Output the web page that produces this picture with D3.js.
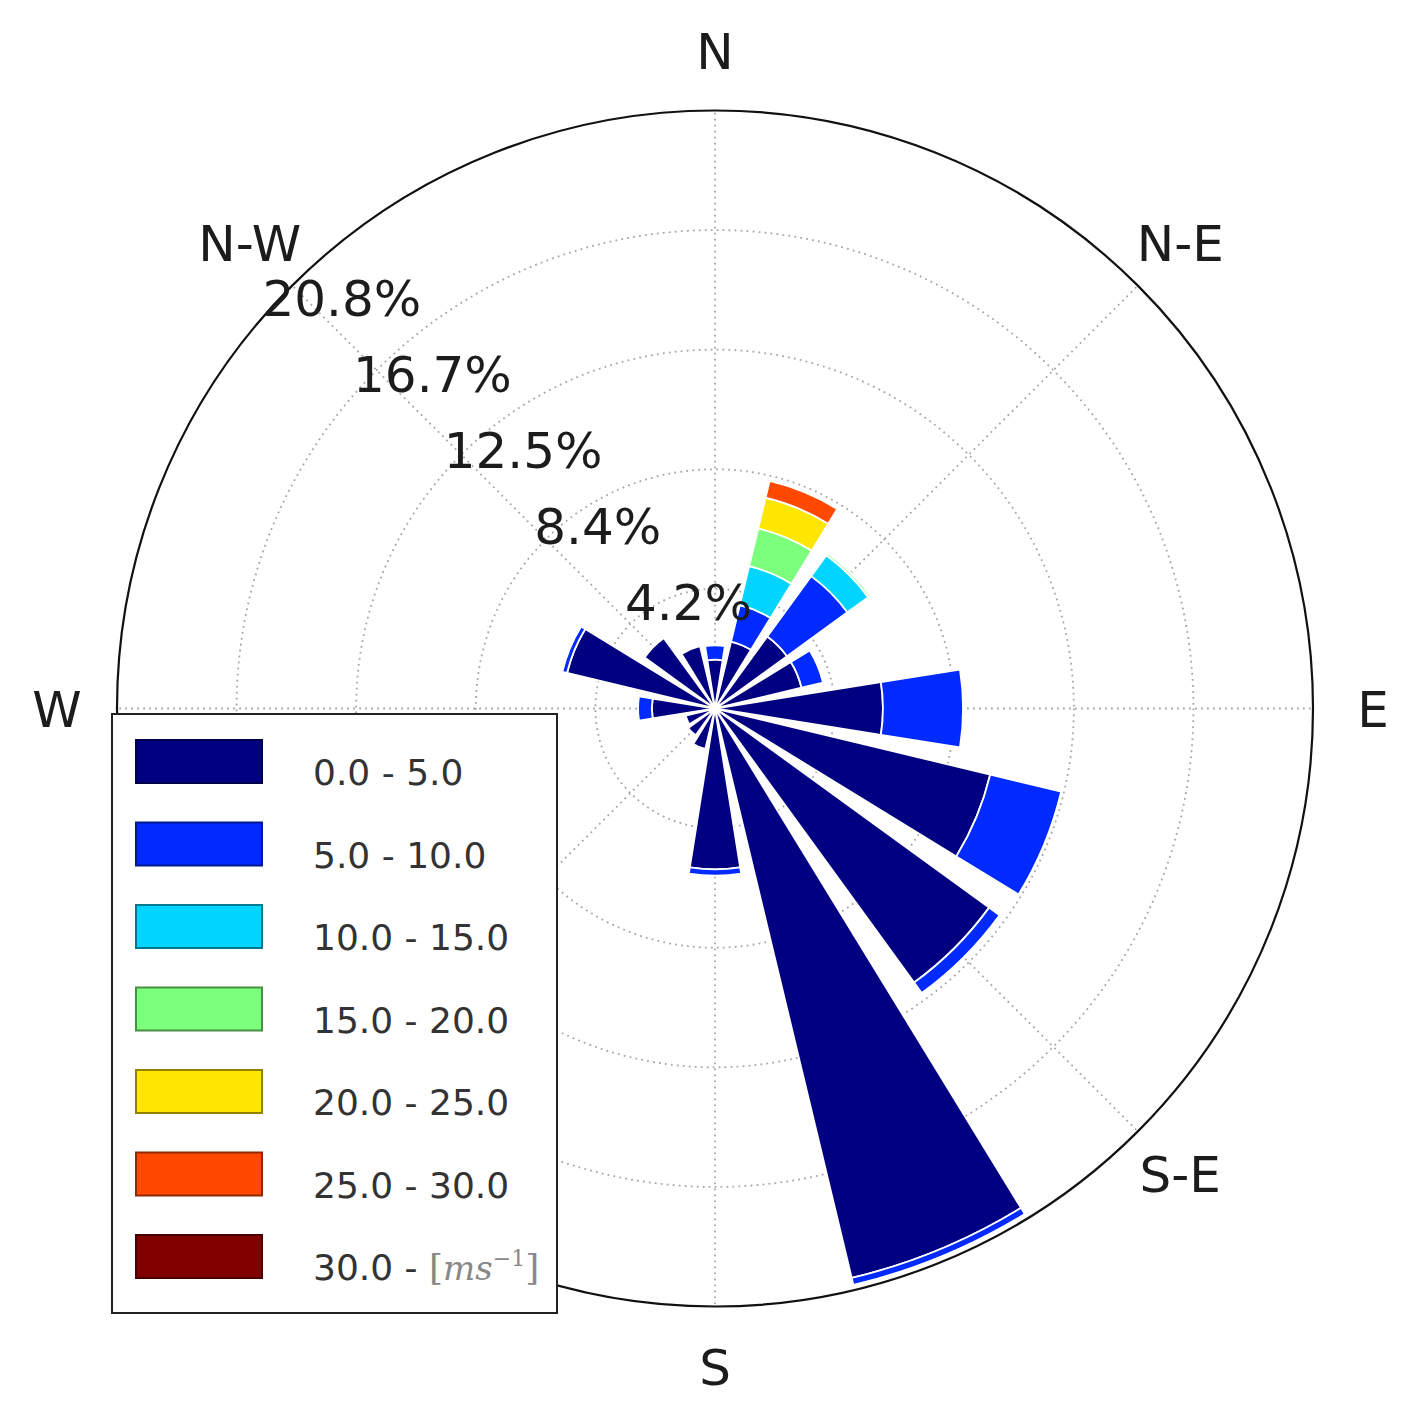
<!DOCTYPE html>
<html>
<head>
<meta charset="utf-8">
<script src="https://cdn.jsdelivr.net/npm/d3@7/dist/d3.min.js"></script>
<style>
  html, body { margin: 0; padding: 0; background: #fff; }
  svg { display: block; }
</style>
</head>
<body>
<svg id="chart" width="1415" height="1407"></svg>
<script>
// ---------------- DATA ----------------
const directions = ["N","NNE","NE","ENE","E","ESE","SE","SSE","S","SSW","SW","WSW","W","WNW","NW","NNW"];
const compassLabels = ["N","N-E","E","S-E","S","S-W","W","N-W"];
const binLabels = ["0.0 - 5.0","5.0 - 10.0","10.0 - 15.0","15.0 - 20.0","20.0 - 25.0","25.0 - 30.0","30.0 - "];
const binColors = ["#000080","#002aff","#00d4ff","#7cff7c","#ffe600","#ff4800","#800000"];
// frequency (%) per direction for each speed bin
const bin0_5   = [1.70, 2.40, 3.10, 3.10, 5.85, 9.86, 11.80, 20.40, 5.60, 1.45, 1.15, 1.05, 2.20, 5.30, 3.03, 2.23];
const bin5_10  = [0.50, 1.30, 2.60, 0.77, 2.79, 2.54, 0.45, 0.25, 0.22, 0.00, 0.00, 0.00, 0.48, 0.17, 0.00, 0.00];
const bin10_15 = [0.00, 1.40, 0.90, 0.00, 0.00, 0.00, 0.00, 0.00, 0.00, 0.00, 0.00, 0.00, 0.00, 0.00, 0.00, 0.00];
const bin15_20 = [0.00, 1.35, 0.08, 0.00, 0.00, 0.00, 0.00, 0.00, 0.00, 0.00, 0.00, 0.00, 0.00, 0.00, 0.00, 0.00];
const bin20_25 = [0.00, 1.10, 0.00, 0.00, 0.00, 0.00, 0.00, 0.00, 0.00, 0.00, 0.00, 0.00, 0.00, 0.00, 0.00, 0.00];
const bin25_30 = [0.00, 0.60, 0.00, 0.00, 0.00, 0.00, 0.00, 0.00, 0.00, 0.00, 0.00, 0.00, 0.00, 0.00, 0.00, 0.00];
const bin30_up = [0.00, 0.00, 0.00, 0.00, 0.00, 0.00, 0.00, 0.00, 0.00, 0.00, 0.00, 0.00, 0.00, 0.00, 0.00, 0.00];
const rMax = 20.83;
const radialTicks = [4.166, 8.333, 12.5, 16.666, 20.83];
const radialTickLabels = ["4.2%","8.4%","12.5%","16.7%","20.8%"];

const bins = [bin0_5, bin5_10, bin10_15, bin15_20, bin20_25, bin25_30, bin30_up];

// ---------------- LAYOUT ----------------
const cx = 715, cy = 708.5, R = 598;
const svg = d3.select("#chart");
const font = "'DejaVu Sans', Verdana, sans-serif";

const rScale = d3.scaleLinear().domain([0, rMax]).range([0, R]);
const angle = d3.scaleBand().domain(directions).range([0, 2 * Math.PI]);
const step = 2 * Math.PI / directions.length;
const halfWidth = step * 0.8 / 2;

const g = svg.append("g").attr("transform", `translate(${cx},${cy})`);

// grid circles (dotted)
g.selectAll("circle.grid").data(radialTicks.slice(0, 4)).join("circle")
  .attr("class", "grid")
  .attr("r", d => rScale(d))
  .attr("fill", "none")
  .attr("stroke", "#a6a6a6")
  .attr("stroke-width", 1.8)
  .attr("stroke-dasharray", "1.8,4.2");

// radial grid lines every 45 deg
const spokes = d3.range(8).map(i => i * Math.PI / 4);
g.selectAll("line.spoke").data(spokes).join("line")
  .attr("class", "spoke")
  .attr("x1", 0).attr("y1", 0)
  .attr("x2", a => R * Math.sin(a))
  .attr("y2", a => -R * Math.cos(a))
  .attr("stroke", "#a6a6a6")
  .attr("stroke-width", 1.8)
  .attr("stroke-dasharray", "1.8,4.2");

// stacked bars
const arc = d3.arc();
const segments = [];
directions.forEach((dir, i) => {
  let offset = 0;
  bins.forEach((b, j) => {
    const v = b[i];
    if (v > 0) {
      segments.push({ dir, j, r0: offset, r1: offset + v });
      offset += v;
    }
  });
});
g.selectAll("path.bar").data(segments).join("path")
  .attr("class", "bar")
  .attr("d", d => {
    const c = angle(d.dir);
    return arc({
      innerRadius: rScale(d.r0),
      outerRadius: rScale(d.r1),
      startAngle: c - halfWidth,
      endAngle: c + halfWidth
    });
  })
  .attr("fill", d => binColors[d.j])
  .attr("stroke", "#ffffff")
  .attr("stroke-width", 1.8)
  .attr("stroke-linejoin", "miter");

// outer circle
g.append("circle").attr("r", R).attr("fill", "none")
  .attr("stroke", "#111").attr("stroke-width", 2.2);

// radial tick labels
const labAng = 310 * Math.PI / 180;
g.selectAll("text.rlab").data(radialTicks).join("text")
  .attr("class", "rlab")
  .attr("x", d => rScale(d) * 0.989 * Math.sin(labAng) + 0.5)
  .attr("y", d => -rScale(d) * 0.989 * Math.cos(labAng) - 12.5)
  .attr("text-anchor", "start")
  .attr("font-family", font)
  .attr("font-size", 50)
  .attr("fill", "#1c1c1c")
  .text((d, i) => radialTickLabels[i]);

// compass labels
g.selectAll("text.clab").data(compassLabels).join("text")
  .attr("class", "clab")
  .attr("x", (d, i) => 658 * Math.sin(i * Math.PI / 4))
  .attr("y", (d, i) => -658 * Math.cos(i * Math.PI / 4) + 18)
  .attr("text-anchor", "middle")
  .attr("font-family", font)
  .attr("font-size", 50)
  .attr("fill", "#1c1c1c")
  .text(d => d);

// ---------------- LEGEND ----------------
const lg = svg.append("g");
lg.append("rect")
  .attr("x", 112).attr("y", 714).attr("width", 445).attr("height", 599)
  .attr("fill", "#fff").attr("stroke", "#222").attr("stroke-width", 2);

const items = lg.selectAll("g.item").data(binLabels).join("g")
  .attr("class", "item")
  .attr("transform", (d, i) => `translate(0,${740 + i * 82.5})`);
items.append("rect")
  .attr("x", 136).attr("y", 0).attr("width", 126).attr("height", 43)
  .attr("fill", (d, i) => binColors[i])
  .attr("stroke", (d, i) => d3.color(binColors[i]).darker(1.6))
  .attr("stroke-width", 2);
const txt = items.append("text")
  .attr("x", 313).attr("y", 45)
  .attr("font-family", font)
  .attr("font-size", 36)
  .attr("fill", "#333")
  .text(d => d);

// unit on the last item
const last = txt.filter((d, i) => i === binLabels.length - 1);
last.append("tspan").attr("font-family", "'DejaVu Serif', 'Liberation Serif', serif")
  .attr("fill", "#888").attr("font-size", 36).text("[");
last.append("tspan").attr("font-family", "'DejaVu Serif', 'Liberation Serif', serif")
  .attr("font-style", "italic").attr("fill", "#888").attr("font-size", 34).text("ms");
last.append("tspan").attr("font-family", "'DejaVu Serif', 'Liberation Serif', serif")
  .attr("fill", "#888").attr("font-size", 22).attr("dy", -14).text("−1");
last.append("tspan").attr("font-family", "'DejaVu Serif', 'Liberation Serif', serif")
  .attr("fill", "#888").attr("font-size", 36).attr("dy", 14).text("]");
</script>
</body>
</html>
